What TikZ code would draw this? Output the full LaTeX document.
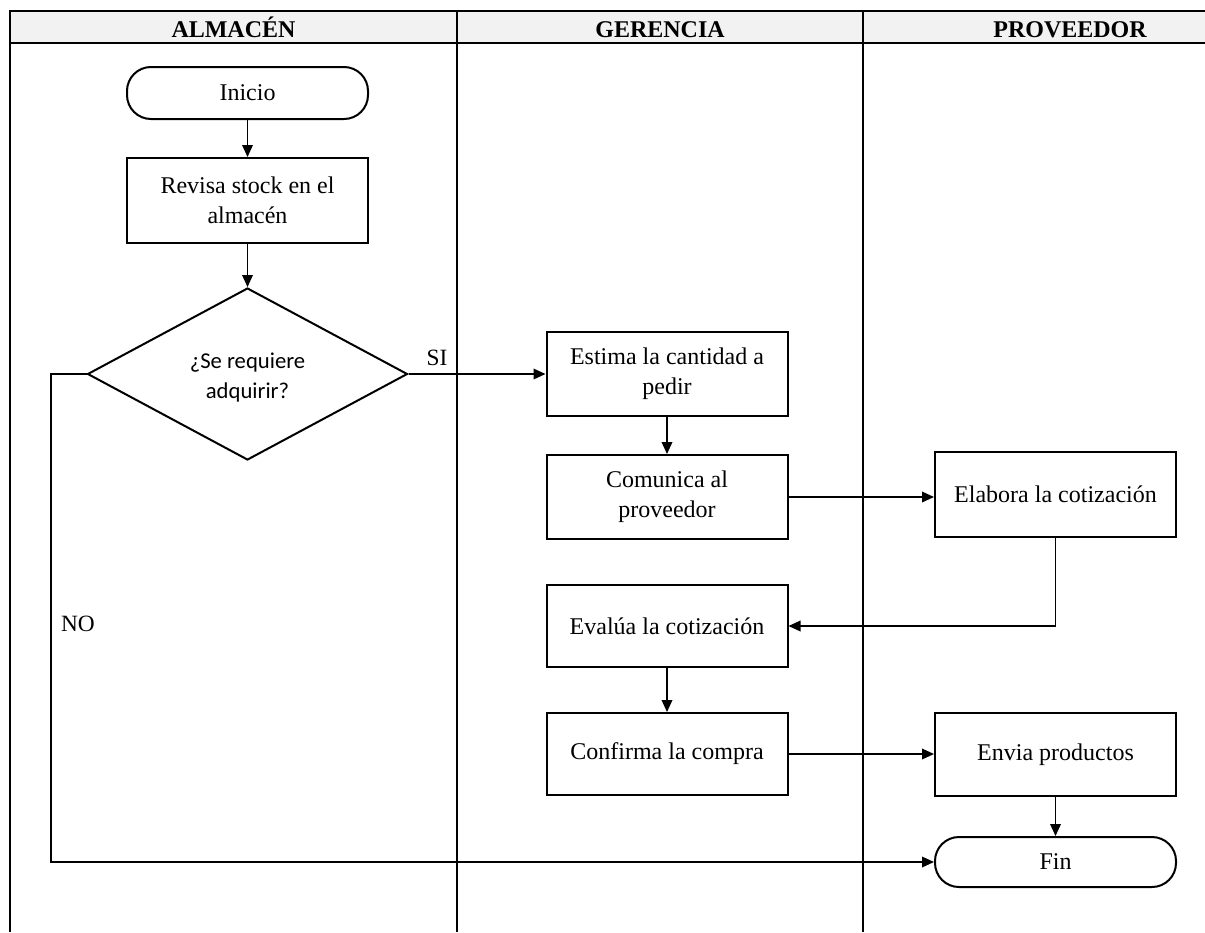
\documentclass[tikz,border=0pt]{standalone}
\usepackage{fontspec}
\setmainfont{Liberation Serif}
\newfontfamily\sansf{Carlito}
\usetikzlibrary{arrows.meta,shapes.geometric}
\definecolor{headgray}{HTML}{F2F2F2}
\begin{document}
\begin{tikzpicture}[x=0.75pt,y=-0.75pt,
  txt/.style={font=\fontsize{18}{22.5}\selectfont},
  box/.style={draw,line width=1.5pt,minimum width=180.75pt,minimum height=63pt,align=center,inner sep=2pt,txt},
  term/.style={draw,line width=1.5pt,rounded corners=18pt,minimum width=180.75pt,minimum height=39pt,txt},
  dec/.style={draw,diamond,line width=1.5pt,minimum width=240pt,minimum height=129pt,inner sep=0pt},
  dectext/.style={align=center,inner sep=0pt,font=\sansf\fontsize{17}{22.5}\selectfont},
  conn/.style={line width=1pt,-{Triangle[length=9pt,width=8pt]}},
  lane/.style={line width=2.2pt},
  head/.style={anchor=base,font=\bfseries\fontsize{18}{20}\selectfont},
  lbl/.style={font=\fontsize{17.5}{20}\selectfont}]
\useasboundingbox (0,0) rectangle (1205,932);
% swimlane frame
\fill[headgray] (10,11) rectangle (1205,43);
\draw[lane] (1205,11) -- (10,11) -- (10,932);
\draw[lane] (10,43) -- (1205,43);
\draw[lane] (457,11) -- (457,932);
\draw[lane] (863,11) -- (863,932);
\node[head] (hA) at (233.5,37) {ALMACÉN};
\node[head] (hG) at (660,37) {GERENCIA};
\node[head] (hP) at (1070,37) {PROVEEDOR};
% nodes
\node[term] (ini) at (247.5,93) {Inicio};
\node[box,minimum height=63.75pt] (rev) at (247.5,200.5) {Revisa stock en el\\almacén};
\node[dec] (dec) at (247.5,374) {};
\node[dectext] (dect) at (247.5,378) {¿Se requiere\\adquirir?};
\node[box] (est) at (667,374) {Estima la cantidad a\\pedir};
\node[box] (com) at (667,497) {Comunica al\\proveedor};
\node[box,minimum height=63.75pt] (ela) at (1055.5,494.5) {Elabora la cotización};
\node[box,minimum height=61.5pt] (eva) at (667,626) {Evalúa la cotización};
\node[box,minimum height=61.5pt] (con) at (667,754) {Confirma la compra};
\node[box,minimum height=62.25pt] (env) at (1055.5,754.5) {Envia productos};
\node[term,minimum height=37.5pt] (fin) at (1055.5,862) {Fin};
% labels
\node[lbl] (si) at (437,358) {SI};
\node[lbl] (no) at (78,624) {NO};
% connectors
\coordinate (nocorner) at (51,374);
\draw[conn] (ini) -- (rev);
\draw[conn] (rev) -- (dec);
\draw[conn] (dec.east) -- (est.west);
\draw[conn] (est) -- (com);
\draw[conn] (com.east) -- (com.east -| ela.west);
\draw[conn] (ela.south) |- (eva.east);
\draw[conn] (eva) -- (con);
\draw[conn] (con.east) -- (con.east -| env.west);
\draw[conn] (env) -- (fin);
\draw[conn] (dec.west) -- (nocorner) |- (fin.west);
\end{tikzpicture}
\end{document}
